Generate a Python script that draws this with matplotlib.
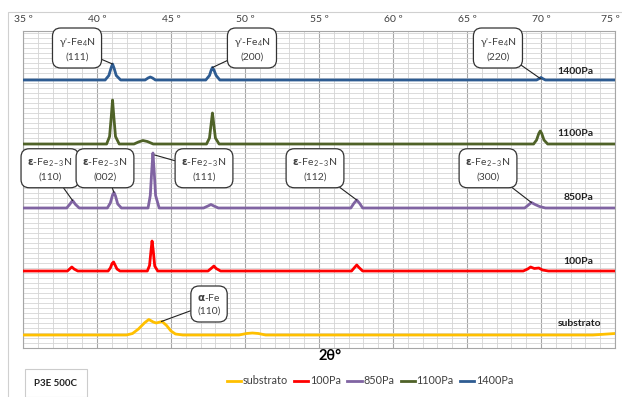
import matplotlib
matplotlib.use("Agg")
import matplotlib.pyplot as plt
from matplotlib.ticker import MultipleLocator
from matplotlib.patches import Rectangle
from matplotlib.lines import Line2D
import matplotlib.transforms as mtransforms

plt.rcParams['font.family'] = ['Lato', 'DejaVu Sans']
plt.rcParams['mathtext.fontset'] = 'custom'
plt.rcParams['mathtext.rm'] = 'Lato'
plt.rcParams['mathtext.it'] = 'Lato:italic'
plt.rcParams['mathtext.bf'] = 'DejaVu Sans:bold'

# ---- data (2theta in degrees, stacked intensity in arbitrary units) ----
series_names = ["substrato", "100Pa", "850Pa", "1100Pa", "1400Pa"]
series_colors = ["#FFC000", "#FF0000", "#8064A2", "#4F6228", "#2E5C92"]

x_sub = [35, 42.0, 42.4, 42.8, 43.2, 43.5, 43.8, 44.0, 44.4, 44.7, 45.0, 45.3, 45.8,
         49.6, 50.1, 50.5, 50.9, 51.4, 73.5, 75]
y_sub = [2.6, 2.6, 2.9, 3.8, 5.0, 5.7, 5.2, 5.0, 5.3, 4.5, 3.4, 2.8, 2.6,
         2.6, 2.9, 3.0, 2.9, 2.6, 2.6, 2.9]

x_100 = [35, 38.0, 38.15, 38.3, 38.45, 38.7, 40.75, 40.9, 41.02, 41.12, 41.22, 41.35, 41.55,
         43.4, 43.55, 43.65, 43.72, 43.8, 43.9, 44.1, 47.5, 47.75, 47.9, 48.05, 48.35,
         57.2, 57.4, 57.55, 57.7, 57.95, 68.8, 69.1, 69.3, 69.55, 69.85, 70.1, 70.5, 75]
y_100 = [15.4, 15.4, 15.8, 16.2, 15.8, 15.4, 15.4, 16.0, 16.9, 17.2, 16.6, 15.8, 15.4,
         15.4, 16.5, 19.5, 21.4, 19.5, 16.4, 15.4, 15.4, 16.0, 16.4, 15.9, 15.4,
         15.4, 16.1, 16.6, 16.1, 15.4, 15.4, 15.8, 16.2, 15.9, 16.0, 15.6, 15.4, 15.4]

x_850 = [35, 37.95, 38.15, 38.35, 38.55, 38.8, 40.7, 40.9, 41.05, 41.15, 41.25, 41.4, 41.65,
         43.45, 43.6, 43.7, 43.78, 43.86, 43.96, 44.2, 47.2, 47.5, 47.7, 47.9, 48.2,
         57.15, 57.35, 57.55, 57.75, 57.95, 68.9, 69.15, 69.35, 69.6, 69.9, 70.3, 75]
y_850 = [28.0, 28.0, 28.7, 29.5, 28.7, 28.0, 28.0, 29.0, 30.6, 31.1, 30.4, 28.8, 28.0,
         28.0, 30.5, 35.5, 39.0, 35.5, 30.5, 28.0, 28.0, 28.4, 28.7, 28.4, 28.0,
         28.0, 28.9, 29.6, 28.9, 28.0, 28.0, 28.6, 29.1, 28.7, 28.3, 28.0, 28.0]

x_1100 = [35, 40.65, 40.85, 40.97, 41.05, 41.13, 41.25, 41.5, 42.5, 42.8, 43.1, 43.4, 43.8,
          47.4, 47.6, 47.72, 47.8, 47.88, 48.0, 48.25, 69.5, 69.7, 69.85, 69.95, 70.05, 70.2, 70.45, 75]
y_1100 = [40.8, 40.8, 42.3, 46.5, 49.6, 46.5, 42.3, 40.8, 40.8, 41.2, 41.5, 41.3, 40.8,
          40.8, 42.0, 45.0, 47.0, 45.0, 42.0, 40.8, 40.8, 41.6, 42.9, 43.4, 42.9, 41.6, 40.8, 40.8]

x_1400 = [35, 40.55, 40.8, 40.95, 41.05, 41.15, 41.3, 41.6, 43.25, 43.45, 43.6, 43.75, 43.95,
          47.35, 47.6, 47.72, 47.8, 47.9, 48.05, 48.3, 69.7, 69.9, 70.0, 70.1, 70.3, 75]
y_1400 = [53.6, 53.6, 54.5, 56.0, 56.8, 56.0, 54.5, 53.6, 53.6, 54.0, 54.2, 54.0, 53.6,
          53.6, 54.5, 55.6, 56.1, 55.6, 54.5, 53.6, 53.6, 53.9, 54.1, 53.9, 53.6, 53.6]

xs = [x_sub, x_100, x_850, x_1100, x_1400]
ys = [y_sub, y_100, y_850, y_1100, y_1400]

tick_values = [35, 40, 45, 50, 55, 60, 65, 70, 75]
tick_labels = [f"{v} º" for v in tick_values]

# series labels on the right (x, y)
series_label_pos = [(72.6, 4.8), (72.5, 17.2), (72.55, 30.2), (72.3, 42.8), (72.3, 55.4)]

# peak annotations: text, text position, peak position
gam = "γ'-Fe$_4$N"
eps = "$\\mathbf{ε}$-Fe$_{2-3}$N"
annotations = [
    (gam + "\n(111)", (38.65, 59.8), (41.05, 56.8)),
    (gam + "\n(200)", (50.47, 59.8), (47.8, 56.1)),
    (gam + "\n(220)", (67.09, 59.8), (70.0, 53.8)),
    (eps + "\n(110)", (36.82, 35.8), (38.35, 29.5)),
    (eps + "\n(002)", (40.54, 35.8), (41.15, 31.1)),
    (eps + "\n(111)", (47.23, 35.8), (43.9, 38.6)),
    (eps + "\n(112)", (54.73, 35.8), (57.55, 29.6)),
    (eps + "\n(300)", (66.42, 35.8), (69.35, 29.1)),
    ("$\\mathbf{α}$-Fe\n(110)", (47.57, 8.8), (44.35, 5.3)),
]

# ---- figure ----
fig = plt.figure(figsize=(6.22, 3.97), dpi=100)
fig.patches.append(Rectangle((8 / 622, -0.1), 2, 1.1 - 12 / 397, transform=fig.transFigure,
                             fill=False, edgecolor="#d0d0d0", lw=0.8))
ax = fig.add_axes([23 / 622, 1 - 348 / 397, (615 - 23) / 622, (348 - 31) / 397])

for x, y, c in zip(xs, ys, series_colors):
    ax.plot(x, y, color=c, lw=2.0, solid_joinstyle="round", zorder=3)

ax.set_xlim(35, 75)
ax.set_ylim(0, 63.4)
ax.xaxis.tick_top()
ax.set_xticks(tick_values)
ax.set_xticklabels(tick_labels)
ax.xaxis.set_minor_locator(MultipleLocator(1))
ax.yaxis.set_major_locator(MultipleLocator(5))
ax.yaxis.set_minor_locator(MultipleLocator(1))
ax.tick_params(axis="x", which="both", length=0, pad=5, labelsize=7.5, colors="#404040")
ax.tick_params(axis="y", which="both", length=0, labelleft=False)
ax.grid(True, axis="x", which="major", color="#a6a6a6", lw=0.8, zorder=0)
ax.grid(True, axis="x", which="minor", color="#d9d9d9", lw=0.7, zorder=0)
ax.grid(True, axis="y", which="both", color="#d6d6d6", lw=0.6, zorder=0)
ax.set_axisbelow(True)
for s in ax.spines.values():
    s.set_color("#a6a6a6")
    s.set_linewidth(0.8)

# keep the last top label inside the figure
last = ax.get_xticklabels()[-1]
last.set_transform(last.get_transform() + mtransforms.ScaledTranslation(-5 / 100, 0, fig.dpi_scale_trans))

for name, (lx, ly) in zip(series_names, series_label_pos):
    ax.text(lx, ly, name, fontsize=7.5, fontweight="bold", ha="center", va="center",
            color="#222222", zorder=4)

for txt, tpos, ppos in annotations:
    ax.annotate(txt, xy=ppos, xytext=tpos, ha="center", va="center", fontsize=7.5,
                color="#404040", linespacing=1.5, zorder=5,
                bbox=dict(boxstyle="round,pad=0.6,rounding_size=0.8", fc="white",
                          ec="#333333", lw=0.9),
                arrowprops=dict(arrowstyle="-", color="#222222", lw=0.8,
                                shrinkA=0, shrinkB=0))

fig.text(330 / 622, 1 - 356 / 397, "2θ°", fontsize=10.5, fontweight="bold",
         ha="center", va="center")

fig.text(56 / 622, 1 - 383 / 397, "P3E 500C", fontsize=7, fontweight="bold",
         ha="center", va="center", color="#222222",
         bbox=dict(boxstyle="square,pad=1.0", fc="white", ec="#cccccc", lw=0.8))

handles = [Line2D([], [], color=c, lw=2) for c in series_colors]
fig.legend(handles, series_names, loc="center", bbox_to_anchor=(370 / 622, 1 - 381 / 397),
           ncol=5, frameon=False, fontsize=7.8, handlelength=1.3, handletextpad=0.15,
           columnspacing=0.6, labelcolor="#404040")

fig.savefig("out.png", dpi=100)
